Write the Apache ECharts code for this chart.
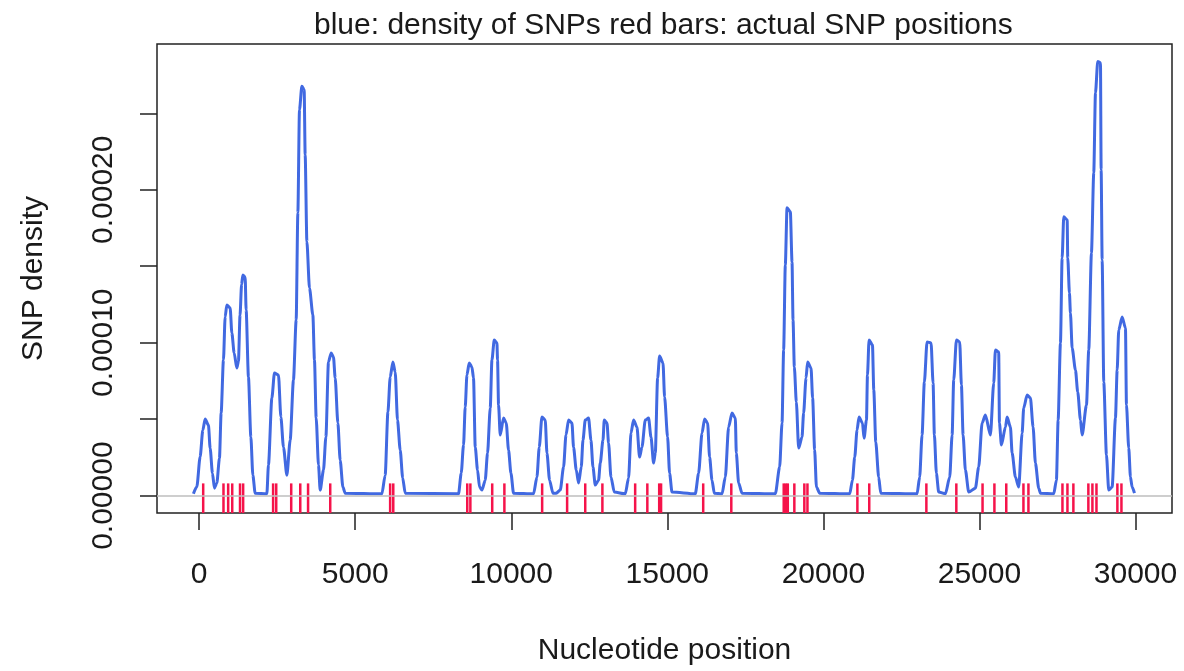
<!DOCTYPE html>
<html>
<head>
<meta charset="utf-8">
<title>SNP density</title>
<script src="https://cdn.jsdelivr.net/npm/echarts@6/dist/echarts.min.js"></script>
<style>
  html, body { margin: 0; padding: 0; background: #fff; }
  #snpChart { width: 1184px; height: 671px; }
</style>
</head>
<body>
<div id="snpChart"></div>
<script>
// red bars: SNP positions (nucleotide)
let snpPositions = [
  130, 780, 930, 1060, 1310, 1410, 2370, 2470, 2950, 3240, 3490, 4200,
  6120, 6220, 8590, 8690, 9390, 9780, 10990, 11790, 12370, 12920,
  13970, 14360, 14740, 14800, 16150, 17050, 18730, 18800, 18860, 19070,
  19390, 19490, 21090, 21470, 23300, 24260, 25100, 25480, 25860,
  26410, 26570, 27660, 27820, 28010, 28490, 28620, 28750, 29420, 29550
];

// blue curve: density (x = position, y = density)
let densityX = [
  -183, -74, 32, 119, 192, 298, 353, 426, 490, 567, 651, 705, 779, 833, 888,
  994, 1048, 1122, 1208, 1260, 1310, 1360, 1401, 1474, 1506, 1580, 1657, 1721, 1795,
  2170, 2221, 2330, 2413, 2542, 2619, 2702, 2811, 2917, 3022, 3109, 3163, 3215,
  3291, 3365, 3397, 3452, 3535, 3644, 3695, 3750, 3824, 3878, 3984, 4061, 4144,
  4231, 4304, 4359, 4445, 4519, 4606, 4679,
  5855, 5961, 6048, 6122, 6208, 6282, 6356, 6442, 6522, 6603,
  8311, 8397, 8471, 8525, 8580, 8653, 8740, 8791, 8846, 8920, 8984, 9061,
  9166, 9240, 9327, 9381, 9455, 9541, 9561, 9593, 9647, 9753, 9839, 9913, 9990, 10073,
  10714, 10823, 10897, 10983, 11089, 11144, 11227, 11336, 11442, 11570,
  11676, 11753, 11836, 11945, 11996, 12083, 12157, 12243, 12298, 12371,
  12477, 12554, 12618, 12692, 12798, 12852, 12939, 12980, 13067, 13118, 13195, 13301,
  13653, 13759, 13836, 13919, 14028, 14111, 14188, 14294, 14400, 14477, 14561,
  14615, 14689, 14753, 14862, 14913, 15009, 15073, 15150,
  15897, 16003, 16112, 16195, 16291, 16355, 16432, 16506,
  16753, 16858, 16964, 17073, 17179, 17211, 17285, 17394,
  18461, 18599, 18676, 18727, 18781, 18836, 18942, 18996, 19028, 19070, 19134, 19208,
  19316, 19367, 19444, 19496, 19605, 19656, 19720, 19778, 19883,
  20845, 20931, 21005, 21079, 21143, 21252, 21304, 21381, 21413, 21464, 21573,
  21615, 21679, 21772, 21838,
  23002, 23085, 23162, 23236, 23322, 23451, 23515, 23557, 23621, 23695,
  23910, 24048, 24125, 24176, 24263, 24368, 24423, 24477, 24551, 24657,
  24871, 24977, 25086, 25192, 25352, 25458, 25512, 25618, 25641, 25705,
  25833, 25887, 25993, 26048, 26153, 26259, 26368, 26419, 26528, 26634,
  26720, 26794, 26900, 26954,
  27381, 27467, 27522, 27596, 27650, 27702, 27811, 27830, 27884, 27916, 27971,
  28077, 28150, 28237, 28291, 28429, 28503, 28589, 28663, 28718, 28791, 28878,
  28900, 28932, 28984, 29070, 29143, 29252, 29358, 29413, 29464, 29573, 29679,
  29711, 29784, 29839, 29893, 29967
];
let densityY = [
  1.2e-6, 5.8e-6, 25.4e-6, 42.9e-6, 50.1e-6, 46.1e-6, 31.0e-6, 14.7e-6, 4.9e-6, 8.2e-6, 24.5e-6, 54.0e-6, 88.7e-6, 116.8e-6, 124.7e-6,
  122.7e-6, 106.4e-6, 93.3e-6, 83.4e-6, 88.0e-6, 118.0e-6, 138.0e-6, 144.3e-6, 143.0e-6, 121.4e-6, 77.6e-6, 38.3e-6, 13.4e-6, 1.6e-6,
  1.2e-6, 20.0e-6, 63.8e-6, 80.2e-6, 78.9e-6, 51.4e-6, 31.7e-6, 13.4e-6, 36.3e-6, 75.6e-6, 114.9e-6, 184.9e-6, 252.3e-6,
  267.6e-6, 265.4e-6, 222.9e-6, 166.1e-6, 135.8e-6, 118.1e-6, 88.7e-6, 50.7e-6, 20.0e-6, 3.6e-6, 16.7e-6, 38.3e-6, 87.4e-6,
  93.3e-6, 90.6e-6, 76.9e-6, 47.5e-6, 23.2e-6, 5.6e-6, 1.6e-6,
  1.2e-6, 13.4e-6, 54.6e-6, 77.6e-6, 87.4e-6, 80.8e-6, 49.4e-6, 29.8e-6, 11.5e-6, 1.6e-6,
  1.2e-6, 14.7e-6, 33.1e-6, 57.9e-6, 78.9e-6, 86.7e-6, 84.1e-6, 76.9e-6, 31.7e-6, 16.7e-6, 5.6e-6, 3.6e-6,
  10.1e-6, 27.8e-6, 57.3e-6, 88.7e-6, 101.8e-6, 99.8e-6, 88.7e-6, 59.2e-6, 39.6e-6, 50.7e-6, 47.5e-6, 29.8e-6, 14.7e-6, 1.6e-6,
  1.2e-6, 12.1e-6, 31.7e-6, 51.4e-6, 49.4e-6, 27.8e-6, 10.1e-6, 1.6e-6, 1.6e-6, 3.6e-6,
  18.7e-6, 39.6e-6, 49.4e-6, 47.5e-6, 31.7e-6, 16.7e-6, 8.2e-6, 18.7e-6, 36.3e-6, 49.4e-6,
  50.7e-6, 36.3e-6, 18.7e-6, 6.9e-6, 10.1e-6, 21.3e-6, 36.3e-6, 49.4e-6, 47.5e-6, 34.4e-6, 12.1e-6, 2.3e-6,
  1.2e-6, 11.5e-6, 40.9e-6, 49.4e-6, 44.8e-6, 25.2e-6, 31.7e-6, 49.4e-6, 50.7e-6, 38.3e-6, 21.3e-6,
  27.8e-6, 76.9e-6, 91.3e-6, 86.7e-6, 64.5e-6, 38.3e-6, 14.7e-6, 2.3e-6,
  1.2e-6, 14.7e-6, 40.9e-6, 50.1e-6, 47.5e-6, 25.2e-6, 10.1e-6, 1.6e-6,
  1.2e-6, 12.1e-6, 44.8e-6, 54.0e-6, 50.7e-6, 27.8e-6, 8.2e-6, 1.6e-6,
  1.2e-6, 18.7e-6, 47.5e-6, 95.2e-6, 150.9e-6, 188.2e-6, 185.6e-6, 152.8e-6, 114.9e-6, 84.1e-6, 61.2e-6, 31.1e-6,
  38.3e-6, 54.0e-6, 76.9e-6, 87.4e-6, 83.4e-6, 63.8e-6, 30.0e-6, 5.6e-6, 1.6e-6,
  1.2e-6, 10.1e-6, 25.2e-6, 42.9e-6, 51.4e-6, 47.5e-6, 37.6e-6, 49.4e-6, 78.9e-6, 101.8e-6, 98.5e-6,
  69.1e-6, 35.0e-6, 12.1e-6, 1.6e-6,
  1.2e-6, 12.1e-6, 39.6e-6, 74.3e-6, 100.5e-6, 99.8e-6, 73.6e-6, 39.6e-6, 14.7e-6, 2.3e-6,
  1.2e-6, 12.1e-6, 39.6e-6, 75.6e-6, 101.8e-6, 100.5e-6, 72.3e-6, 39.6e-6, 16.7e-6, 2.3e-6,
  4.9e-6, 18.7e-6, 47.5e-6, 52.7e-6, 39.6e-6, 73.6e-6, 95.2e-6, 93.9e-6, 47.5e-6, 33.1e-6,
  44.8e-6, 51.4e-6, 44.8e-6, 27.8e-6, 12.1e-6, 5.6e-6, 40.9e-6, 57.3e-6, 65.8e-6, 63.8e-6,
  44.8e-6, 21.3e-6, 4.9e-6, 1.6e-6,
  1.2e-6, 10.1e-6, 49.4e-6, 99.8e-6, 155.4e-6, 182.3e-6, 180.3e-6, 155.4e-6, 132.5e-6, 119.4e-6, 96.5e-6,
  82.1e-6, 67.7e-6, 49.4e-6, 39.6e-6, 59.2e-6, 95.2e-6, 158.7e-6, 211.1e-6, 263.4e-6, 283.9e-6, 283.1e-6,
  213.0e-6, 154.1e-6, 74.3e-6, 26.5e-6, 3.6e-6, 5.6e-6, 50.7e-6, 82.1e-6, 108.3e-6, 116.8e-6, 109.6e-6,
  59.2e-6, 31.1e-6, 12.1e-6, 5.6e-6, 1.6e-6
];

let xTicks = [0, 5000, 10000, 15000, 20000, 25000, 30000];
let yTicks = [0, 0.00005, 0.0001, 0.00015, 0.0002, 0.00025];
let yLabels = [0, 0.0001, 0.0002];

let X_MIN = -1350, X_MAX = 31170;
let Y_MIN = -0.00001136, Y_MAX = 0.0002953;
let RUG_TOP = 0.000008;

let fontFamily = '"Liberation Sans", Arial, sans-serif';
let txt = '#1a1a1a';

let curve = densityX.map(function (x, i) { return [x, densityY[i]]; });
let rug = snpPositions.map(function (p) { return [p, 0]; });

let chart = echarts.init(document.getElementById('snpChart'));

let option = {
  animation: false,
  backgroundColor: '#fff',
  title: {
    text: 'blue: density of SNPs red bars: actual SNP positions',
    left: 314,
    top: 11,
    padding: 0,
    textStyle: { fontFamily: fontFamily, fontSize: 30, fontWeight: 'normal', color: txt }
  },
  grid: {
    left: 157, right: 12, top: 44, bottom: 158,
    show: true, borderColor: '#222', borderWidth: 1.5,
    backgroundColor: 'transparent'
  },
  xAxis: {
    type: 'value',
    min: X_MIN, max: X_MAX,
    name: 'Nucleotide position',
    nameLocation: 'middle',
    nameGap: 123,
    nameTextStyle: { fontFamily: fontFamily, fontSize: 30, color: txt },
    axisLine: { show: false, onZero: false },
    splitLine: { show: false },
    axisTick: {
      show: true, inside: false, length: 17, customValues: xTicks,
      lineStyle: { color: '#222', width: 1.5 }
    },
    axisLabel: {
      customValues: xTicks, margin: 47,
      fontFamily: fontFamily, fontSize: 30, color: txt,
      formatter: function (v) { return String(v); }
    }
  },
  yAxis: {
    type: 'value',
    min: Y_MIN, max: Y_MAX,
    name: 'SNP density',
    nameLocation: 'middle',
    nameGap: 108,
    nameTextStyle: { fontFamily: fontFamily, fontSize: 30, color: txt },
    axisLine: { show: false, onZero: false },
    splitLine: { show: false },
    axisTick: {
      show: true, inside: false, length: 17, customValues: yTicks,
      lineStyle: { color: '#222', width: 1.5 }
    },
    axisLabel: {
      customValues: yLabels, rotate: 90, margin: 38,
      fontFamily: fontFamily, fontSize: 30, color: txt,
      formatter: function (v) { return v.toFixed(5); }
    }
  },
  series: [
    {
      name: 'zero',
      type: 'line',
      data: [],
      z: 1,
      markLine: {
        silent: true,
        symbol: 'none',
        label: { show: false },
        lineStyle: { color: '#bebebe', width: 1.5, type: 'solid' },
        data: [{ yAxis: 0 }]
      }
    },
    {
      name: 'density',
      type: 'line',
      data: curve,
      z: 2,
      showSymbol: false,
      smooth: 0.25,
      smoothMonotone: 'x',
      lineStyle: { color: '#4169e1', width: 3 }
    },
    {
      name: 'SNPs',
      type: 'custom',
      z: 3,
      data: rug,
      encode: { x: 0, y: 1 },
      renderItem: function (params, api) {
        let p0 = api.coord([api.value(0), Y_MIN]);
        let p1 = api.coord([api.value(0), RUG_TOP]);
        return {
          type: 'line',
          shape: { x1: p0[0], y1: p0[1], x2: p1[0], y2: p1[1] },
          style: { stroke: '#f5134a', lineWidth: 2.5 }
        };
      }
    }
  ]
};

chart.setOption(option);
</script>
</body>
</html>
